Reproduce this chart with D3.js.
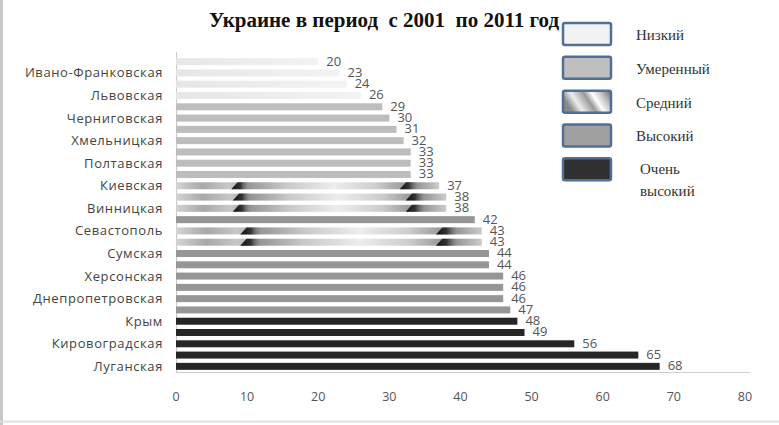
<!DOCTYPE html>
<html><head><meta charset="utf-8">
<script src="https://cdn.jsdelivr.net/npm/d3@7/dist/d3.min.js"></script>
<style>body{margin:0;background:#fff}svg{display:block}</style>
</head><body><svg id="c" width="779" height="425"></svg>
<script>
const regions = ["r1","Ивано-Франковская","r3","Львовская","r5","Черниговская","r7","Хмельницкая","r9","Полтавская","r11","Киевская","r13","Винницкая","r15","Севастополь","r17","Сумская","r19","Херсонская","r21","Днепропетровская","r23","Крым","r25","Кировоградская","r27","Луганская"];
const values = [20,23,24,26,29,30,31,32,33,33,33,37,38,38,42,43,43,44,44,46,46,46,47,48,49,56,65,68];
const levels = [0,0,0,0,1,1,1,1,1,1,1,2,2,2,3,2,2,3,3,3,3,3,3,4,4,4,4,4];
const levelNames = ["Низкий","Умеренный","Средний","Высокий",["Очень","высокий"]];
const xTicks = [0,10,20,30,40,50,60,70,80];
const title = "Украине в период  с 2001  по 2011 год";

const svg = d3.select("#c");
const defs = svg.append("defs");
const mid = defs.append("linearGradient").attr("id","gMid").attr("x1",0).attr("x2",1).attr("y1",0).attr("y2",0);
[[0,"#d4d4d4"],[0.1,"#a8a8a8"],[0.2,"#c8c8c8"],[0.28,"#979797"],[0.42,"#c9c9c9"],[0.6,"#ededed"],[0.76,"#cdcdcd"],[0.9,"#8a8a8a"],[1,"#cccccc"]]
  .forEach(s=>mid.append("stop").attr("offset",s[0]).attr("stop-color",s[1]));
const wedge = defs.append("linearGradient").attr("id","gW").attr("x1",0).attr("x2",1).attr("y1",0).attr("y2",0);
wedge.append("stop").attr("offset",0).attr("stop-color","#111");
wedge.append("stop").attr("offset",0.5).attr("stop-color","#333");
wedge.append("stop").attr("offset",1).attr("stop-color","#777").attr("stop-opacity",0);
const low = defs.append("linearGradient").attr("id","gLow").attr("x1",0).attr("x2",1);
low.append("stop").attr("offset",0).attr("stop-color","#e6e6e6");
low.append("stop").attr("offset",1).attr("stop-color","#f3f3f3");
const lg = defs.append("linearGradient").attr("id","gLeg").attr("x1",0).attr("x2",1).attr("y1",0.3).attr("y2",0);
[[0,"#888"],[0.2,"#eee"],[0.45,"#999"],[0.6,"#fff"],[0.8,"#bbb"],[1,"#666"]].forEach(s=>lg.append("stop").attr("offset",s[0]).attr("stop-color",s[1]));

const fills = ["url(#gLow)","#bdbdbd","url(#gMid)","#969696","#262626"];
const legFills = ["#f2f2f2","#bfbfbf","url(#gLeg)","#a0a0a0","#303030"];

const x = d3.scaleLinear().domain([0,80]).range([176,745]);
const y = d3.scaleBand().domain(d3.range(values.length)).range([56,372]).paddingInner(0.38).paddingOuter(0.19);

// border
svg.append("line").attr("x1",1.5).attr("x2",1.5).attr("y1",0).attr("y2",425).attr("stroke","#c8c8c8").attr("stroke-width",3);
svg.append("line").attr("x1",0).attr("x2",779).attr("y1",421.5).attr("y2",421.5).attr("stroke","#e0e0e0").attr("stroke-width",2);

svg.append("text").attr("x",384).attr("y",27).attr("text-anchor","middle")
  .style("white-space","pre").attr("font-family","Liberation Serif").attr("font-weight","bold")
  .attr("font-size",21).attr("fill","#111").text(title);

// axes lines
svg.append("line").attr("x1",176.5).attr("x2",176.5).attr("y1",52).attr("y2",372).attr("stroke","#c8c8c8");
svg.append("line").attr("x1",176).attr("x2",750).attr("y1",372.5).attr("y2",372.5).attr("stroke","#cfcfcf");

const g = svg.append("g");
values.forEach((v,i)=>{
  const bx = x(0), bw = x(v)-x(0), by = y(i), bh = y.bandwidth();
  g.append("rect").attr("x",bx).attr("y",by).attr("width",bw).attr("height",bh).attr("fill",fills[levels[i]]);
  if(levels[i]===2){
    [0.21,0.85].forEach(f=>{
      const wx = bx + bw*f, ww = bw*0.07;
      g.append("path").attr("d",`M${wx},${by+bh} L${wx+bh*0.9},${by} L${wx+ww},${by} L${wx+ww},${by+bh} Z`).attr("fill","url(#gW)");
    });
  }
});

svg.append("g").selectAll("text").data(values).join("text")
  .attr("x",d=>x(d)+8).attr("y",(d,i)=>y(i)+y.bandwidth()/2).attr("dy","0.3em")
  .attr("font-family","Open Sans").attr("font-size",13).attr("fill","#555").text(d=>d);

svg.append("g").selectAll("text").data(regions.map((r,i)=>[r,i]).filter(d=>d[1]%2===1)).join("text")
  .attr("x",163).attr("y",d=>y(d[1])+y.bandwidth()/2).attr("dy","0.35em").attr("text-anchor","end")
  .attr("font-family","Open Sans").attr("font-size",13).attr("letter-spacing",0.6).attr("fill","#444").text(d=>d[0]);

svg.append("g").selectAll("text").data(xTicks).join("text")
  .attr("x",d=>x(d)).attr("y",401).attr("text-anchor","middle")
  .attr("font-family","Open Sans").attr("font-size",12.5).attr("fill","#555").text(d=>d);

// legend
const ly = d3.scaleBand().domain(d3.range(5)).range([22,181]).paddingInner(0.3);
levelNames.forEach((n,i)=>{
  svg.append("rect").attr("x",563).attr("y",ly(i)+1).attr("width",48).attr("height",22).attr("rx",2)
    .attr("fill",legFills[i]).attr("stroke","#4f6f96").attr("stroke-width",2.5);
  const t = svg.append("text").attr("x",636).attr("y",ly(i)+18).attr("font-family","Liberation Serif")
    .attr("font-size",15).attr("fill","#333");
  if(Array.isArray(n)){
    t.append("tspan").attr("x",640).attr("dy",-1).text(n[0]);
    t.append("tspan").attr("x",640).attr("dy",22).text(n[1]);
  } else t.text(n);
});
</script></body></html>
